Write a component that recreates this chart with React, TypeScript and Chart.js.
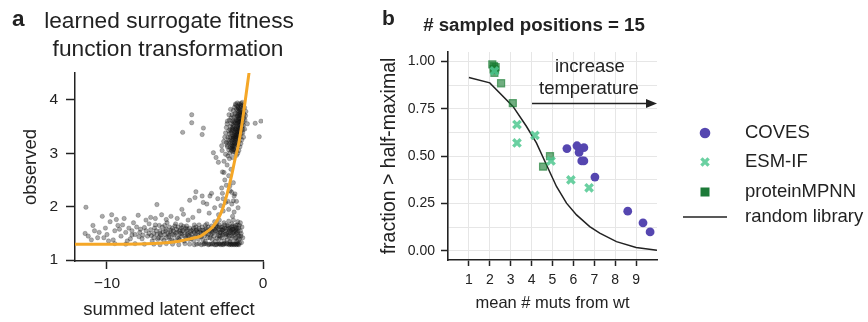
import React, { useEffect, useRef } from 'react';
import { Chart, registerables } from 'chart.js';

Chart.register(...registerables);

const FONT = '"Liberation Sans", Arial, Helvetica, sans-serif';
const INK = '#222222';

// ---------------- Panel a data ----------------
const aXTicks = [-10, 0];
const aYTicks = [1, 2, 3, 4];

// fitted transformation (orange curve)
const fitLatent = [-12.05, -9, -7, -6, -5.5, -5, -4.5, -4, -3.6, -3.2, -2.9, -2.6, -2.3, -2.0, -1.8, -1.6, -1.4, -1.2, -1.0, -0.85];
const fitObserved = [1.3, 1.3, 1.31, 1.33, 1.35, 1.38, 1.41, 1.45, 1.53, 1.63, 1.76, 1.95, 2.24, 2.6, 2.88, 3.12, 3.45, 3.85, 4.28, 4.6];

// observed variants (summed latent effect, observed)
const blobPoints: [number, number][] = [
  [-1.52, 3.92], [-1.41, 3.88], [-1.33, 3.95], [-1.6, 3.85], [-1.47, 3.81], [-1.28, 3.84], [-1.55, 3.78], [-1.38, 3.76],
  [-1.68, 3.74], [-1.44, 3.71], [-1.21, 3.73], [-1.59, 3.69], [-1.31, 3.68], [-1.75, 3.66], [-1.49, 3.64], [-1.36, 3.62],
  [-1.63, 3.61], [-1.82, 3.6], [-1.26, 3.59], [-1.55, 3.57], [-1.42, 3.55], [-1.71, 3.54], [-1.9, 3.52], [-1.34, 3.51],
  [-1.6, 3.49], [-1.48, 3.47], [-1.79, 3.46], [-1.97, 3.45], [-1.29, 3.44], [-1.66, 3.42], [-1.52, 3.4], [-1.85, 3.39],
  [-2.05, 3.38], [-1.4, 3.37], [-1.73, 3.35], [-1.58, 3.33], [-1.92, 3.32], [-1.46, 3.3], [-2.12, 3.29], [-1.8, 3.28],
  [-1.64, 3.26], [-1.99, 3.24], [-1.53, 3.22], [-1.87, 3.21], [-2.2, 3.2], [-1.72, 3.18], [-2.03, 3.16], [-1.61, 3.15],
  [-1.94, 3.13], [-2.1, 3.11], [-1.78, 3.1], [-1.88, 3.07], [-2.0, 3.05], [-1.7, 3.04],
  [-1.5, 3.86], [-1.44, 3.9], [-1.62, 3.8], [-1.35, 3.8], [-1.57, 3.73], [-1.5, 3.7], [-1.43, 3.66], [-1.66, 3.7],
  [-1.58, 3.64], [-1.7, 3.62], [-1.52, 3.6], [-1.46, 3.58], [-1.64, 3.56], [-1.78, 3.57], [-1.56, 3.53], [-1.68, 3.5],
  [-1.84, 3.5], [-1.42, 3.49], [-1.6, 3.45], [-1.74, 3.44], [-1.9, 3.43], [-1.55, 3.43], [-1.68, 3.38], [-1.8, 3.36],
  [-1.62, 3.36], [-1.96, 3.35], [-1.74, 3.31], [-1.86, 3.3], [-1.68, 3.3], [-2.0, 3.28], [-1.76, 3.24], [-1.9, 3.25],
  [-1.82, 3.18], [-1.96, 3.19], [-1.84, 3.14], [-1.98, 3.1], [-1.92, 3.02], [-2.06, 3.08], [-1.81, 3.02],
  [-2.3, 3.55], [-2.2, 3.42], [-2.15, 3.62], [-2.25, 3.3], [-2.1, 3.5], [-2.05, 3.66], [-1.98, 3.72], [-1.9, 3.8],
  [-1.82, 3.86], [-1.75, 3.9], [-1.7, 3.82], [-1.8, 3.74], [-1.88, 3.68], [-1.95, 3.6], [-2.02, 3.55], [-2.1, 3.44],
  [-2.16, 3.36], [-2.22, 3.24], [-2.28, 3.12], [-2.35, 3.2], [-2.4, 3.38], [-2.2, 3.06], [-2.12, 3.0], [-1.3, 3.9],
  [-1.22, 3.66], [-1.18, 3.85], [-1.12, 3.7], [-1.25, 3.52], [-1.3, 3.38], [-1.36, 3.25], [-1.42, 3.18], [-1.48, 3.12],
  [-1.55, 3.05], [-1.62, 3.0], [-1.7, 2.96], [-1.76, 3.92], [-1.64, 3.94], [-1.4, 3.93], [-1.35, 3.72], [-1.4, 3.6],
  [-1.48, 3.52], [-1.53, 3.47], [-1.59, 3.4], [-1.66, 3.34], [-1.71, 3.27], [-1.77, 3.2], [-1.83, 3.12], [-1.89, 3.06],
  [-1.45, 3.77], [-1.5, 3.74], [-1.56, 3.66], [-1.61, 3.58], [-1.7, 3.46], [-1.76, 3.4], [-1.84, 3.33], [-1.92, 3.28],
  [-1.97, 3.14], [-2.08, 3.2], [-1.65, 3.2], [-1.57, 3.28], [-1.5, 3.35], [-1.45, 3.42], [-1.38, 3.45], [-1.32, 3.56],
  [-1.28, 3.76], [-1.62, 3.88], [-1.55, 3.83], [-1.88, 3.58], [-2.0, 3.42], [-1.94, 3.48],
];
const tailPoints: [number, number][] = [
  [-2.35, 3.48], [-2.28, 3.6], [-2.45, 3.3], [-2.3, 3.15], [-2.52, 3.22], [-2.18, 3.72], [-2.08, 3.82], [-1.15, 3.62],
  [-1.1, 3.78], [-1.18, 3.45], [-1.0, 3.55], [-1.25, 3.3], [-2.62, 3.05], [-2.4, 2.98], [-2.25, 2.95], [-2.15, 2.9],
  [-1.95, 2.92], [-2.5, 2.85], [-2.3, 2.78], [-2.05, 2.7], [-2.6, 2.65], [-2.2, 2.58], [-2.45, 2.5], [-1.9, 2.45],
  [-2.35, 2.4], [-2.1, 2.3], [-2.65, 2.35], [-1.85, 2.2], [-2.55, 2.15], [-2.25, 2.1],
  [-3.18, 3.01], [-3.01, 2.92], [-2.86, 2.83], [-2.65, 3.14], [-2.5, 2.64], [-2.12, 2.39], [-2.01, 2.27], [-1.9, 2.11],
  [-1.8, 2.24], [-3.4, 2.2], [-3.83, 2.08], [-4.36, 2.17],
];
const midPoints: [number, number][] = [
  [-4.3, 2.28], [-3.9, 2.2], [-3.6, 2.05], [-3.3, 2.25], [-3.1, 1.98], [-2.9, 2.15], [-2.7, 2.02], [-2.55, 1.92],
  [-2.4, 2.08], [-2.2, 1.95], [-2.0, 2.05], [-1.85, 1.9], [-1.7, 2.1], [-1.6, 1.98], [-4.7, 2.12], [-3.45, 1.88],
  [-2.85, 1.85], [-1.95, 1.82], [-2.6, 2.25], [-5.2, 1.95], [-4.1, 1.92],
];
const lowBandPoints: [number, number][] = [
  [-7.9, 1.52], [-7.6, 1.61], [-7.4, 1.45], [-7.2, 1.57], [-7.0, 1.5], [-6.9, 1.66], [-6.7, 1.42], [-6.6, 1.55],
  [-6.45, 1.62], [-6.3, 1.48], [-6.2, 1.58], [-6.05, 1.44], [-5.95, 1.53], [-5.8, 1.6], [-5.7, 1.47], [-5.6, 1.68],
  [-5.5, 1.52], [-5.4, 1.41], [-5.3, 1.57], [-5.2, 1.49], [-5.1, 1.63], [-5.0, 1.45], [-4.9, 1.55], [-4.8, 1.5],
  [-4.7, 1.6], [-4.6, 1.43], [-4.5, 1.57], [-4.4, 1.66], [-4.3, 1.48], [-4.2, 1.53], [-4.1, 1.59], [-4.0, 1.45],
  [-3.9, 1.62], [-3.8, 1.51], [-3.7, 1.56], [-3.6, 1.68], [-3.5, 1.49], [-3.4, 1.58], [-3.3, 1.64], [-3.2, 1.53],
  [-3.1, 1.72], [-3.0, 1.6], [-2.9, 1.5], [-2.8, 1.66], [-2.7, 1.57], [-2.6, 1.62], [-2.5, 1.7], [-2.4, 1.55],
  [-2.3, 1.65], [-2.2, 1.6], [-2.1, 1.52], [-2.0, 1.68], [-1.9, 1.58], [-1.8, 1.62], [-1.7, 1.5], [-1.6, 1.56],
  [-7.75, 1.4], [-7.3, 1.68], [-6.85, 1.55], [-6.55, 1.47], [-6.15, 1.7], [-5.85, 1.39], [-5.55, 1.58], [-5.25, 1.66],
  [-4.95, 1.6], [-4.65, 1.52], [-4.35, 1.44], [-4.05, 1.53], [-3.75, 1.46], [-3.45, 1.55], [-3.15, 1.45], [-2.85, 1.58],
  [-2.55, 1.5], [-2.25, 1.47], [-1.95, 1.5], [-1.65, 1.66], [-1.75, 1.42], [-2.05, 1.4], [-2.35, 1.44], [-2.65, 1.42],
  [-2.95, 1.41], [-3.25, 1.39], [-3.55, 1.42], [-3.85, 1.38], [-4.15, 1.4], [-4.45, 1.37], [-4.75, 1.39], [-5.05, 1.36],
  [-5.35, 1.38], [-5.65, 1.36], [-5.95, 1.38], [-6.35, 1.37], [-6.75, 1.39], [-7.1, 1.36],
  [-6.4, 1.53], [-6.1, 1.5], [-5.9, 1.56], [-5.6, 1.51], [-5.35, 1.54], [-5.15, 1.55], [-4.85, 1.58], [-4.55, 1.49],
  [-4.25, 1.57], [-3.95, 1.5], [-3.65, 1.59], [-3.35, 1.47], [-2.75, 1.52], [-2.45, 1.6], [-2.15, 1.56], [-1.85, 1.47],
  [-1.72, 1.58], [-2.02, 1.62], [-2.32, 1.5], [-2.62, 1.56], [-2.92, 1.62], [-1.55, 1.45], [-1.62, 1.72], [-1.9, 1.75],
  [-2.2, 1.73], [-2.8, 1.75], [-1.58, 1.38], [-1.68, 1.35], [-2.12, 1.35], [-2.5, 1.36], [-3.05, 1.35], [-3.7, 1.35],
  [-1.4, 1.5], [-1.35, 1.62], [-1.45, 1.7], [-1.3, 1.42], [-1.38, 1.33],
  [-7.5, 1.55], [-7.15, 1.46], [-6.95, 1.6], [-6.8, 1.48], [-6.65, 1.65], [-6.5, 1.41], [-6.25, 1.55], [-6.0, 1.62],
  [-5.75, 1.55], [-5.45, 1.62], [-5.25, 1.45], [-5.05, 1.52], [-4.9, 1.64], [-4.75, 1.46], [-4.6, 1.55], [-4.45, 1.6],
  [-4.3, 1.55], [-4.15, 1.46], [-4.0, 1.56], [-3.85, 1.56], [-3.65, 1.5], [-3.5, 1.62], [-3.3, 1.55], [-3.2, 1.6],
  [-3.05, 1.55], [-2.95, 1.68], [-2.85, 1.46], [-2.7, 1.62], [-2.6, 1.47], [-2.45, 1.66], [-2.35, 1.58], [-2.25, 1.64],
  [-2.15, 1.45], [-2.05, 1.55], [-1.95, 1.64], [-1.85, 1.55], [-1.75, 1.65], [-1.65, 1.52], [-1.55, 1.6], [-1.5, 1.4],
  [-1.8, 1.4], [-2.3, 1.38], [-2.8, 1.4], [-3.4, 1.42], [-4.6, 1.4], [-5.5, 1.43], [-6.2, 1.42], [-7.0, 1.42],
  [-5.8, 1.48], [-5.3, 1.5], [-4.85, 1.47], [-4.4, 1.52], [-3.95, 1.44], [-3.6, 1.54], [-3.25, 1.5], [-2.95, 1.53],
  [-2.65, 1.52], [-2.4, 1.48], [-2.1, 1.6], [-1.9, 1.52], [-1.7, 1.6], [-1.6, 1.48], [-6.6, 1.5], [-6.0, 1.47],
  [-5.2, 1.6], [-4.3, 1.62], [-3.7, 1.65], [-3.0, 1.64], [-2.55, 1.58], [-2.0, 1.46], [-1.75, 1.55], [-1.45, 1.55],
  [-1.42, 1.45], [-1.52, 1.65], [-7.3, 1.5], [-8.4, 1.47], [-7.95, 1.44], [-6.3, 1.65], [-5.65, 1.64], [-4.95, 1.42],
  [-4.1, 1.66], [-3.15, 1.58], [-2.75, 1.45], [-2.2, 1.52], [-1.98, 1.58],
];
const floorPoints: [number, number][] = [
  [-7.0, 1.3], [-6.6, 1.29], [-6.2, 1.31], [-5.8, 1.3], [-5.4, 1.29], [-5.0, 1.31], [-4.7, 1.3], [-4.4, 1.29],
  [-4.1, 1.31], [-3.8, 1.3], [-3.5, 1.29], [-3.2, 1.31], [-2.95, 1.3], [-2.7, 1.29], [-2.45, 1.31], [-2.2, 1.3],
  [-2.0, 1.29], [-1.8, 1.31], [-1.6, 1.3], [-1.5, 1.32], [-2.35, 1.3], [-2.6, 1.3], [-2.85, 1.31], [-3.1, 1.29],
  [-3.35, 1.3], [-3.65, 1.31], [-1.9, 1.3], [-1.7, 1.29], [-2.1, 1.31], [-7.6, 1.3], [-8.2, 1.31], [-8.8, 1.3], [-9.5, 1.31],
  [-4.25, 1.3], [-3.95, 1.29], [-3.75, 1.31], [-3.45, 1.3], [-3.25, 1.3], [-3.0, 1.29], [-2.8, 1.3], [-2.55, 1.29],
  [-2.3, 1.31], [-2.05, 1.3], [-1.85, 1.29], [-1.65, 1.31], [-1.55, 1.29], [-2.15, 1.29], [-2.5, 1.31], [-2.75, 1.31],
  [-1.95, 1.31], [-1.75, 1.3],
];
const sparsePoints: [number, number][] = [
  [-11.35, 1.99], [-11.2, 1.45], [-11.0, 1.38], [-10.8, 1.55], [-10.6, 1.42], [-10.3, 1.82], [-10.1, 1.6], [-10.0, 1.48],
  [-9.8, 1.72], [-9.6, 1.38], [-9.5, 1.55], [-9.3, 1.65], [-9.1, 1.45], [-8.9, 1.78], [-8.8, 1.52], [-8.6, 1.6],
  [-8.5, 1.4], [-8.3, 1.7], [-8.2, 1.48], [-8.0, 1.84], [-7.85, 1.58], [-7.5, 1.75], [-7.2, 1.8], [-6.8, 2.04],
  [-6.9, 1.78], [-6.5, 1.85], [-6.2, 1.76], [-5.9, 1.82], [-5.5, 1.78], [-5.1, 1.86], [-4.8, 1.75], [-4.5, 1.8],
  [-10.5, 1.52], [-9.9, 1.36], [-9.2, 1.58], [-8.7, 1.36], [-8.4, 1.55], [-10.9, 1.65], [-11.4, 1.5], [-9.7, 1.85],
  [-9.0, 1.66], [-8.1, 1.62], [-7.7, 1.47], [-10.2, 1.42], [-9.4, 1.76],
];
const outlierPoints: [number, number][] = [
  [-4.57, 3.72], [-4.57, 3.57], [-5.15, 3.39], [-3.9, 3.35], [-3.82, 3.47], [-0.13, 3.6], [-0.5, 3.56], [-0.24, 3.31],
];

// ---------------- Panel b data ----------------
const bXTicks = [1, 2, 3, 4, 5, 6, 7, 8, 9];
const bYGrid = [0, 0.125, 0.25, 0.375, 0.5, 0.625, 0.75, 0.875, 1.0];

const covesMuts = [5.69, 6.17, 6.5, 6.27, 6.4, 6.5, 7.03, 8.6, 9.33, 9.67];
const covesFrac = [0.54, 0.555, 0.545, 0.52, 0.475, 0.475, 0.39, 0.21, 0.148, 0.1];

const esmMuts = [3.3, 3.3, 4.16, 4.93, 5.88, 6.75, 2.22];
const esmFrac = [0.667, 0.57, 0.61, 0.475, 0.375, 0.333, 0.95];

const mpnnMuts = [2.12, 2.2, 2.28, 2.18, 2.25, 2.22, 2.54, 3.1, 4.55, 4.88];
const mpnnFrac = [0.985, 0.975, 0.97, 0.96, 0.955, 0.94, 0.885, 0.78, 0.445, 0.5];

const randomMuts = [1, 2, 3.11, 3.75, 4.23, 4.71, 5.19, 5.67, 6.15, 6.78, 7.26, 8.06, 9.0, 10.0];
const randomFrac = [0.915, 0.887, 0.763, 0.658, 0.57, 0.455, 0.34, 0.252, 0.19, 0.128, 0.094, 0.049, 0.018, 0.003];

const legendLabels = ['COVES', 'ESM-IF', 'proteinMPNN', 'random library'];

const COVES_COLOR = '#5546b0';
const ESM_COLOR = 'rgba(80,200,145,0.85)';
const MPNN_COLOR = 'rgba(25,125,50,0.62)';
const MPNN_SOLID = '#1c7a38';

const zipXY = (xs: number[], ys: number[]) => xs.map((x, i) => ({ x, y: ys[i] }));
const pairXY = (p: [number, number][]) => p.map(([x, y]) => ({ x, y }));

function TextAt(props: { text: string; x: number; baseline: number; size: number; bold?: boolean; center?: boolean }) {
  const { text, x, baseline, size, bold, center } = props;
  const style: React.CSSProperties = {
    position: 'absolute',
    top: baseline - 0.8465 * size,
    left: center ? x - 200 : x,
    width: center ? 400 : undefined,
    textAlign: center ? 'center' : 'left',
    fontFamily: FONT,
    fontSize: size,
    lineHeight: `${size}px`,
    fontWeight: bold ? 700 : 400,
    whiteSpace: 'nowrap',
    color: INK,
  };
  return <div style={style}>{text}</div>;
}

const bAnnotations = {
  id: 'bAnnotations',
  afterDraw(chart: any) {
    const { ctx, scales, chartArea } = chart;
    const xs = scales.x;
    const ys = scales.y;
    ctx.save();
    // arrow
    const x0 = xs.getPixelForValue(4.02);
    const x1 = xs.getPixelForValue(10);
    const yy = ys.getPixelForValue(0.778);
    ctx.strokeStyle = INK;
    ctx.fillStyle = INK;
    ctx.lineWidth = 1.5;
    ctx.beginPath();
    ctx.moveTo(x0, yy);
    ctx.lineTo(x1 - 8, yy);
    ctx.stroke();
    ctx.beginPath();
    ctx.moveTo(x1, yy);
    ctx.lineTo(x1 - 11, yy - 4.5);
    ctx.lineTo(x1 - 11, yy + 4.5);
    ctx.closePath();
    ctx.fill();
    // annotation text
    ctx.font = `18.5px ${FONT}`;
    ctx.textAlign = 'center';
    ctx.textBaseline = 'alphabetic';
    ctx.fillText('increase', xs.getPixelForValue(6.79), ys.getPixelForValue(0.943));
    ctx.fillText('temperature', xs.getPixelForValue(6.74), ys.getPixelForValue(0.829));

    // legend
    const mx = chartArea.right + 48;
    const tx = chartArea.right + 88;
    const rows = [133, 162, 192, 217];
    ctx.fillStyle = COVES_COLOR;
    ctx.beginPath();
    ctx.arc(mx, rows[0], 5.3, 0, Math.PI * 2);
    ctx.fill();
    ctx.strokeStyle = ESM_COLOR;
    ctx.lineWidth = 3.4;
    ctx.beginPath();
    ctx.moveTo(mx - 3.6, rows[1] - 3.6);
    ctx.lineTo(mx + 3.6, rows[1] + 3.6);
    ctx.moveTo(mx + 3.6, rows[1] - 3.6);
    ctx.lineTo(mx - 3.6, rows[1] + 3.6);
    ctx.stroke();
    ctx.fillStyle = MPNN_SOLID;
    ctx.fillRect(mx - 4.5, rows[2] - 4.5, 9, 9);
    ctx.strokeStyle = INK;
    ctx.lineWidth = 1.5;
    ctx.beginPath();
    ctx.moveTo(mx - 22, rows[3]);
    ctx.lineTo(mx + 22, rows[3]);
    ctx.stroke();
    ctx.fillStyle = INK;
    ctx.font = `18.5px ${FONT}`;
    ctx.textAlign = 'left';
    ctx.textBaseline = 'middle';
    legendLabels.forEach((t, i) => ctx.fillText(t, tx, rows[i]));
    ctx.restore();
  },
};

export default function App() {
  const refA = useRef<HTMLCanvasElement>(null);
  const refB = useRef<HTMLCanvasElement>(null);

  useEffect(() => {
    const scatterA = [
      ...pairXY(blobPoints),
      ...pairXY(tailPoints),
      ...pairXY(midPoints),
      ...pairXY(lowBandPoints),
      ...pairXY(floorPoints),
      ...pairXY(sparsePoints),
      ...pairXY(outlierPoints),
    ];
    const chartA = new Chart(refA.current!, {
      type: 'scatter',
      data: {
        datasets: [
          {
            type: 'line',
            data: zipXY(fitLatent, fitObserved),
            borderColor: '#f5a727',
            borderWidth: 3,
            pointRadius: 0,
            fill: false,
            cubicInterpolationMode: 'monotone',
          } as any,
          {
            type: 'scatter',
            data: scatterA,
            backgroundColor: 'rgba(20,20,20,0.36)',
            borderColor: 'rgba(20,20,20,0.36)',
            borderWidth: 0.6,
            pointRadius: 2.2,
          },
        ],
      },
      options: {
        responsive: false,
        maintainAspectRatio: false,
        animation: false,
        events: [],
        layout: { padding: { left: 0, top: 73, right: 37, bottom: 0 } },
        plugins: { legend: { display: false }, tooltip: { enabled: false }, title: { display: false } },
        scales: {
          x: {
            type: 'linear',
            min: -12.05,
            max: 0,
            afterBuildTicks: (s: any) => { s.ticks = aXTicks.map((v) => ({ value: v })); },
            afterFit: (s: any) => { s.height = 61; },
            grid: { drawOnChartArea: false, drawTicks: true, tickLength: 8, tickColor: INK, tickWidth: 1.5 },
            border: { display: true, color: INK, width: 1.5 },
            ticks: {
              color: INK,
              font: { size: 15.5, family: FONT },
              padding: 5,
              maxRotation: 0,
              autoSkip: false,
              callback: (v: any) => (v < 0 ? '\u2212' + Math.abs(v) : String(v)),
            },
            title: { display: true, text: 'summed latent effect', color: INK, font: { size: 18.5, family: FONT }, padding: { top: 0, bottom: 1 } },
          },
          y: {
            type: 'linear',
            min: 0.985,
            max: 4.5,
            afterBuildTicks: (s: any) => { s.ticks = aYTicks.map((v) => ({ value: v })); },
            afterFit: (s: any) => { s.width = 75; },
            grid: { drawOnChartArea: false, drawTicks: true, tickLength: 9, tickColor: INK, tickWidth: 1.5 },
            border: { display: true, color: INK, width: 1.5 },
            ticks: { color: INK, font: { size: 15.5, family: FONT }, padding: 8, autoSkip: false },
            title: { display: true, text: 'observed', color: INK, font: { size: 18.5, family: FONT }, padding: { top: 20, bottom: 0 } },
          },
        },
      },
    });

    const isMajor = (v: number) => Math.abs(v * 4 - Math.round(v * 4)) < 1e-6;
    const chartB = new Chart(refB.current!, {
      type: 'scatter',
      data: {
        datasets: [
          {
            type: 'scatter',
            label: 'COVES',
            data: zipXY(covesMuts, covesFrac),
            pointStyle: 'circle',
            pointRadius: 4.4,
            backgroundColor: COVES_COLOR,
            borderColor: COVES_COLOR,
            borderWidth: 0,
          },
          {
            type: 'scatter',
            label: 'ESM-IF',
            data: zipXY(esmMuts, esmFrac),
            pointStyle: 'crossRot',
            pointRadius: 5.2,
            borderColor: ESM_COLOR,
            backgroundColor: ESM_COLOR,
            borderWidth: 3.4,
          },
          {
            type: 'scatter',
            label: 'proteinMPNN',
            data: zipXY(mpnnMuts, mpnnFrac),
            pointStyle: 'rect',
            pointRadius: 5,
            backgroundColor: MPNN_COLOR,
            borderColor: MPNN_COLOR,
            borderWidth: 1.2,
          },
          {
            type: 'line',
            label: 'random library',
            data: zipXY(randomMuts, randomFrac),
            borderColor: INK,
            borderWidth: 1.5,
            pointRadius: 0,
            fill: false,
            tension: 0,
          } as any,
        ],
      },
      options: {
        responsive: false,
        maintainAspectRatio: false,
        animation: false,
        events: [],
        layout: { padding: { left: 0, top: 52, right: 211, bottom: 0 } },
        plugins: { legend: { display: false }, tooltip: { enabled: false }, title: { display: false } },
        scales: {
          x: {
            type: 'linear',
            min: 0,
            max: 10,
            afterBuildTicks: (s: any) => { s.ticks = bXTicks.map((v) => ({ value: v })); },
            afterFit: (s: any) => { s.height = 62; },
            grid: { color: '#e6e6e6', lineWidth: 1, drawTicks: true, tickLength: 6, tickColor: INK, tickWidth: 1.5 },
            border: { display: true, color: INK, width: 1.6 },
            ticks: { color: INK, font: { size: 14, family: FONT }, padding: 5.5, maxRotation: 0, autoSkip: false },
            title: { display: true, text: 'mean # muts from wt', color: INK, font: { size: 16.5, family: FONT }, padding: { top: 0, bottom: 9 } },
          },
          y: {
            type: 'linear',
            min: -0.048,
            max: 1.05,
            afterBuildTicks: (s: any) => { s.ticks = bYGrid.map((v) => ({ value: v })); },
            afterFit: (s: any) => { s.width = 68; },
            grid: {
              color: '#e6e6e6',
              lineWidth: 1,
              drawTicks: true,
              tickLength: 7,
              tickWidth: 1.5,
              tickColor: (c: any) => (c.tick && isMajor(c.tick.value) ? INK : 'rgba(0,0,0,0)'),
            },
            border: { display: true, color: INK, width: 1.6 },
            ticks: {
              color: INK,
              font: { size: 14, family: FONT },
              padding: 6,
              autoSkip: false,
              callback: (v: any) => (isMajor(Number(v)) ? Number(v).toFixed(2) : ''),
            },
            title: { display: true, text: 'fraction > half-maximal', color: INK, font: { size: 19.5, family: FONT, lineHeight: 1 }, padding: { top: 0, bottom: 0 } },
          },
        },
      },
      plugins: [bAnnotations],
    });

    return () => {
      chartA.destroy();
      chartB.destroy();
    };
  }, []);

  return (
    <div style={{ position: 'absolute', left: 0, top: 0, width: 868, height: 322, background: '#ffffff', overflow: 'hidden' }}>
      <canvas ref={refA} width={300} height={322} style={{ position: 'absolute', left: 0, top: 0, width: 300, height: 322 }} />
      <canvas ref={refB} width={488} height={322} style={{ position: 'absolute', left: 380, top: 0, width: 488, height: 322 }} />
      <TextAt text="a" x={12} baseline={27} size={22.5} bold />
      <TextAt text="learned surrogate fitness" x={169} baseline={28.3} size={22.7} center />
      <TextAt text="function transformation" x={168} baseline={56.7} size={22.7} center />
      <TextAt text="b" x={382} baseline={25} size={21} bold />
      <TextAt text="# sampled positions = 15" x={534} baseline={31.7} size={18.7} bold center />
    </div>
  );
}
